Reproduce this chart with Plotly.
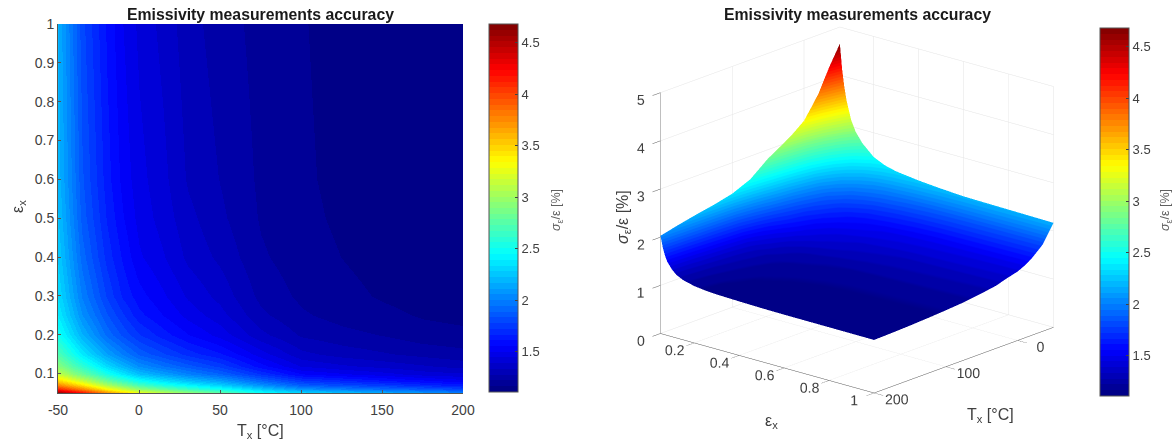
import plotly.graph_objects as go

temperature = [-50, -35, -20, -10, 0, 15, 30, 50, 75, 100, 125, 150, 175, 200]
emissivity = [0.05, 0.06, 0.07, 0.08, 0.10, 0.12, 0.15, 0.20, 0.25, 0.30, 0.40, 0.50, 0.60, 1.00]
accuracy = [
    [4.66, 4.25, 3.78, 3.55, 3.33, 3.15, 3.00, 2.82, 2.52, 2.36, 2.27, 2.20, 2.12, 2.03],
    [4.14, 3.78, 3.36, 3.16, 2.96, 2.81, 2.67, 2.51, 2.28, 2.08, 2.00, 1.93, 1.87, 1.80],
    [3.78, 3.44, 3.06, 2.87, 2.70, 2.55, 2.43, 2.29, 2.07, 1.88, 1.81, 1.76, 1.69, 1.64],
    [3.51, 3.18, 2.83, 2.66, 2.50, 2.37, 2.25, 2.13, 1.92, 1.75, 1.69, 1.63, 1.58, 1.53],
    [3.14, 2.83, 2.53, 2.37, 2.23, 2.12, 2.01, 1.90, 1.72, 1.56, 1.51, 1.47, 1.42, 1.40],
    [2.92, 2.61, 2.32, 2.18, 2.05, 1.95, 1.86, 1.76, 1.58, 1.44, 1.40, 1.37, 1.34, 1.31],
    [2.72, 2.38, 2.12, 1.99, 1.88, 1.79, 1.70, 1.62, 1.47, 1.35, 1.31, 1.285, 1.26, 1.24],
    [2.50, 2.18, 1.93, 1.82, 1.73, 1.64, 1.56, 1.48, 1.35, 1.27, 1.24, 1.22, 1.19, 1.18],
    [2.39, 2.06, 1.84, 1.73, 1.63, 1.555, 1.48, 1.41, 1.29, 1.23, 1.20, 1.18, 1.16, 1.15],
    [2.33, 1.995, 1.77, 1.655, 1.58, 1.51, 1.435, 1.37, 1.26, 1.21, 1.182, 1.16, 1.145, 1.135],
    [2.27, 1.92, 1.70, 1.60, 1.51, 1.45, 1.375, 1.32, 1.23, 1.19, 1.165, 1.145, 1.128, 1.12],
    [2.23, 1.87, 1.66, 1.56, 1.48, 1.42, 1.35, 1.29, 1.215, 1.18, 1.156, 1.137, 1.12, 1.11],
    [2.20, 1.845, 1.635, 1.535, 1.465, 1.405, 1.325, 1.275, 1.21, 1.175, 1.151, 1.13, 1.116, 1.105],
    [2.17, 1.80, 1.60, 1.50, 1.43, 1.37, 1.30, 1.25, 1.20, 1.17, 1.145, 1.125, 1.11, 1.10],
]
z_ticks = [0, 1, 2, 3, 4, 5]
t_ticks_3d = [0, 100, 200]
e_ticks_3d = [0.2, 0.4, 0.6, 0.8, 1]
t_ticks_2d = [-50, 0, 50, 100, 150, 200]
t_labels_2d = ["-50", "0", "50", "100", "150", "200"]
e_ticks_2d = [0.1, 0.2, 0.3, 0.4, 0.5, 0.6, 0.7, 0.8, 0.9, 1]
cb_ticks = [1.5, 2, 2.5, 3, 3.5, 4, 4.5]

CMIN, CMAX = 1.11, 4.68
W, H = 1173, 445
TXT = "#404040"
FONT = "Liberation Sans, Arial, sans-serif"


def jet(n=64):
    cl = lambda v: max(0.0, min(1.0, v))
    out = []
    for i in range(n):
        t = (i + 0.5) / n
        r = cl(min(4 * t - 1.5, -4 * t + 4.5))
        g = cl(min(4 * t - 0.5, -4 * t + 3.5))
        b = cl(min(4 * t + 0.5, -4 * t + 2.5))
        c = f"rgb({round(r*255)},{round(g*255)},{round(b*255)})"
        out += [[i / n, c], [(i + 1) / n, c]]
    return out


JET = jet()


def colorbar(x0, top, bottom):
    return dict(
        x=x0 / W, xanchor="left", xpad=0, thickness=29, thicknessmode="pixels",
        y=1 - bottom / H, yanchor="bottom", ypad=0, len=(bottom - top) / H, lenmode="fraction",
        tickvals=cb_ticks, ticks="inside", ticklen=3, tickcolor="#404040", tickwidth=1,
        tickfont=dict(family=FONT, size=13, color=TXT),
        outlinecolor="#555555", outlinewidth=1, borderwidth=0,
    )


fig = go.Figure()
fig.add_trace(go.Heatmap(
    x=temperature, y=emissivity, z=accuracy, zsmooth="best",
    colorscale=JET, zmin=CMIN, zmax=CMAX, colorbar=colorbar(489, 24, 392), hoverinfo="skip",
))
fig.add_trace(go.Surface(
    x=temperature, y=emissivity, z=accuracy,
    colorscale=JET, cmin=CMIN, cmax=CMAX, colorbar=colorbar(1100, 28, 396), hoverinfo="skip",
    lighting=dict(ambient=1, diffuse=0, specular=0, fresnel=0, roughness=1),
    contours=dict(x=dict(highlight=False), y=dict(highlight=False), z=dict(highlight=False)),
))


def ax3d(rng, ticks, ticklen):
    return dict(
        range=rng, tickvals=ticks, showbackground=False, showspikes=False, zeroline=False,
        gridcolor="#e4e4e4", gridwidth=1, showline=True, linecolor="#555555", linewidth=1,
        ticks="outside", ticklen=ticklen, tickcolor="#555555", tickangle=0,
        tickfont=dict(family=FONT, size=13, color=TXT), title=dict(text=""),
    )


def ann(text, x, y, size=16, color=TXT, angle=0):
    return dict(text=text, x=x / W, y=1 - y / H, xref="paper", yref="paper", showarrow=False,
                font=dict(family=FONT, size=size, color=color), textangle=angle,
                xanchor="center", yanchor="middle")


SIGMA = "<i>σ</i><sub>ε</sub>/ε [%]"
fig.update_layout(
    width=W, height=H, autosize=False, margin=dict(l=0, r=0, t=0, b=0, autoexpand=False),
    paper_bgcolor="white", plot_bgcolor="white", font=dict(family=FONT, color=TXT),
    showlegend=False,
    xaxis=dict(domain=[58 / W, 463 / W], range=[-50, 200], tickvals=t_ticks_2d, ticktext=t_labels_2d,
               ticks="inside", ticklabelstandoff=4,
               ticklen=3, tickcolor="#555555", showgrid=False, zeroline=False, showline=True,
               linecolor="#555555", tickfont=dict(size=14, color=TXT)),
    yaxis=dict(domain=[1 - 393 / H, 1 - 24 / H], range=[0.05, 1], tickvals=e_ticks_2d, ticks="inside",
               ticklen=3, tickcolor="#555555", showgrid=False, zeroline=False, showline=True,
               linecolor="#555555", tickfont=dict(size=14, color=TXT)),
    scene=dict(
        domain=dict(x=[607 / W, 1107 / W], y=[1 - 420 / H, 1]),
        xaxis=ax3d([-50, 200], t_ticks_3d, 12),
        yaxis=ax3d([0.05, 1], e_ticks_3d, 12),
        zaxis=ax3d([0, 5], z_ticks, 8),
        aspectmode="manual", aspectratio=dict(x=1.30, y=1.35, z=1.21),
        camera=dict(projection=dict(type="orthographic"), center=dict(x=0, y=0, z=0),
                    up=dict(x=0, y=0, z=1), eye=dict(x=0.94, y=0.82, z=0.42)),
    ),
    annotations=[
        ann("<b>Emissivity measurements accuracy</b>", 260, 15, 15.8, "#1a1a1a"),
        ann("<b>Emissivity measurements accuracy</b>", 857, 15, 15.8, "#1a1a1a"),
        ann("T<sub>x</sub> [°C]", 260, 431),
        ann("ε<sub>x</sub>", 18, 207, 16, TXT, -90),
        ann(SIGMA, 557, 210, 12.5, "#606060", -90),
        ann(SIGMA, 1166, 210, 12.5, "#606060", -90),
        ann("ε<sub>x</sub>", 771, 421),
        ann("T<sub>x</sub> [°C]", 990, 415),
        ann(SIGMA, 623, 217, 16, TXT, -90),
    ],
)
fig.write_html("out.html", config={"displayModeBar": False},
               post_script="document.body.style.margin='0';document.documentElement.style.margin='0';")
